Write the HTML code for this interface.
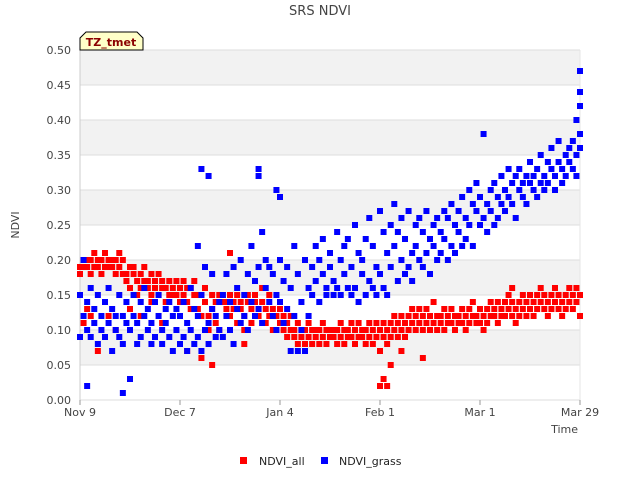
<!DOCTYPE html>
<html><head><meta charset="utf-8"><style>
body{margin:0;background:#fff;font-family:"Liberation Sans",sans-serif}
svg text{font-family:"DejaVu Sans","Liberation Sans",sans-serif}
</style></head><body>
<svg id="c" width="640" height="480">
<text x="320" y="15" text-anchor="middle" font-size="13" fill="#444">SRS NDVI</text>
<g id="grid"></g><g id="axes"></g><g id="marks"></g>
<g>
<path d="M80,50 L80,38 L86,32 L137,32 L143,38 L143,50 Z" fill="#ffffc8" stroke="#000"/>
<text x="111" y="46" text-anchor="middle" font-size="11" font-weight="bold" fill="#8b0000">TZ_tmet</text></g>
<text transform="translate(19,225) rotate(-90)" text-anchor="middle" font-size="11" fill="#444">NDVI</text>
<text x="578" y="433" text-anchor="end" font-size="11" fill="#444">Time</text>
<g><rect x="240" y="457" width="7" height="7" fill="#f00"/><text x="259" y="465" font-size="11" fill="#222">NDVI_all</text></g>
<g><rect x="321" y="457" width="7" height="7" fill="#00f"/><text x="339" y="465" font-size="11" fill="#222">NDVI_grass</text></g>
</svg>
<script>
const yTicks=[0,0.05,0.1,0.15,0.2,0.25,0.3,0.35,0.4,0.45,0.5];
const xTickDays=[0,28,56,84,112,140];
const xTickLabels=["Nov 9","Dec 7","Jan 4","Feb 1","Mar 1","Mar 29"];
const allDays=[0,0,1,1,2,2,3,3,4,4,5,5,6,6,7,7,8,8,9,9,10,10,11,11,12,12,1,3,5,8,10,2,
13,13,14,14,15,15,16,16,17,17,18,18,19,19,20,20,21,21,22,22,23,23,24,24,25,25,14,17,20,23,
26,26,27,27,28,28,29,29,30,30,31,31,32,32,33,33,34,34,35,35,36,36,37,37,38,38,39,39,30,34,37,
40,40,41,41,42,42,43,43,44,44,45,45,46,46,47,47,48,48,49,49,50,50,51,51,52,52,53,53,54,54,42,46,
55,55,56,56,57,57,58,58,59,59,60,60,61,61,62,62,63,63,64,64,65,65,66,66,67,67,68,68,69,69,70,70,
71,71,72,72,73,73,74,74,75,75,76,76,77,77,78,78,79,79,80,80,81,81,82,82,83,83,84,84,85,85,84,85,86,87,
86,86,87,87,88,88,89,89,90,90,91,91,92,92,93,93,94,94,95,95,96,96,97,97,98,98,99,99,100,100,90,96,
101,101,102,102,103,103,104,104,105,105,106,106,107,107,108,108,109,109,110,110,111,111,112,112,113,113,114,114,115,115,
116,116,117,117,118,118,119,119,120,120,121,121,122,122,123,123,124,124,125,125,126,126,127,127,128,128,129,129,130,130,
131,131,132,132,133,133,134,134,135,135,136,136,137,137,138,138,139,139,140,140,121,133];
const allVals=[0.19,0.18,0.20,0.19,0.19,0.20,0.20,0.18,0.21,0.19,0.19,0.20,0.20,0.18,0.19,0.21,0.20,0.19,0.19,0.20,0.20,0.18,0.19,0.21,0.18,0.20,0.11,0.12,0.07,0.12,0.10,0.13,
0.18,0.17,0.19,0.16,0.18,0.19,0.17,0.15,0.18,0.16,0.19,0.17,0.17,0.16,0.15,0.18,0.16,0.17,0.18,0.15,0.17,0.16,0.16,0.14,0.15,0.17,0.13,0.12,0.14,0.11,
0.16,0.15,0.17,0.15,0.16,0.14,0.15,0.17,0.14,0.16,0.16,0.13,0.15,0.17,0.13,0.15,0.15,0.12,0.14,0.16,0.12,0.10,0.15,0.13,0.11,0.14,0.10,0.15,0.07,0.06,0.05,
0.14,0.15,0.13,0.14,0.15,0.12,0.14,0.13,0.15,0.11,0.13,0.14,0.12,0.10,0.14,0.15,0.13,0.11,0.15,0.14,0.12,0.13,0.14,0.16,0.11,0.13,0.15,0.12,0.10,0.13,0.21,0.08,
0.12,0.10,0.11,0.13,0.10,0.12,0.11,0.09,0.10,0.12,0.10,0.09,0.11,0.08,0.09,0.10,0.10,0.08,0.09,0.11,0.10,0.08,0.09,0.10,0.08,0.10,0.09,0.11,0.10,0.08,0.09,0.10,
0.10,0.09,0.08,0.10,0.09,0.11,0.10,0.08,0.09,0.10,0.11,0.09,0.10,0.08,0.09,0.11,0.10,0.09,0.10,0.08,0.11,0.09,0.10,0.08,0.09,0.11,0.07,0.10,0.09,0.11,0.02,0.03,0.02,0.05,
0.10,0.08,0.11,0.09,0.10,0.12,0.09,0.11,0.10,0.12,0.11,0.09,0.10,0.12,0.11,0.13,0.10,0.12,0.11,0.13,0.12,0.10,0.11,0.13,0.12,0.10,0.11,0.14,0.12,0.10,0.07,0.06,
0.11,0.12,0.10,0.13,0.12,0.11,0.11,0.13,0.12,0.10,0.11,0.12,0.13,0.11,0.12,0.10,0.11,0.13,0.12,0.14,0.11,0.12,0.13,0.11,0.12,0.10,0.11,0.13,0.12,0.14,
0.13,0.12,0.14,0.11,0.12,0.13,0.14,0.12,0.13,0.15,0.12,0.14,0.13,0.11,0.14,0.12,0.15,0.13,0.12,0.14,0.13,0.15,0.14,0.12,0.13,0.15,0.14,0.16,0.13,0.15,
0.14,0.12,0.15,0.13,0.14,0.16,0.13,0.15,0.14,0.12,0.15,0.13,0.14,0.16,0.13,0.15,0.14,0.16,0.15,0.12,0.16,0.14,0.15,0.13,0.16,0.14,0.15,0.16,0.09,0.07];
const grassDays=[0,0,1,1,2,2,3,3,4,4,5,5,6,6,7,7,8,8,9,9,10,10,11,11,12,12,13,13,2,12,14,
14,15,15,16,16,17,17,18,18,19,19,20,20,21,21,22,22,23,23,24,24,25,25,26,26,27,27,
28,28,29,29,30,30,31,31,32,32,33,33,34,34,35,35,36,36,37,37,38,38,39,39,34,36,33,
40,40,41,41,42,42,43,43,44,44,45,45,46,46,47,47,48,48,49,49,50,50,51,51,52,52,53,53,50,50,
54,54,55,55,56,56,57,57,58,58,59,59,60,60,61,61,62,62,63,63,64,64,55,56,
65,65,66,66,67,67,68,68,69,69,70,70,71,71,72,72,73,73,74,74,75,75,76,76,77,77,78,78,79,79,
80,80,81,81,82,82,83,83,84,84,85,85,86,86,87,87,88,88,89,89,90,90,91,91,92,92,93,93,94,94,95,95,
96,96,97,97,98,98,99,99,100,100,101,101,102,102,103,103,104,104,105,105,106,106,107,107,108,108,109,109,110,110,
111,111,112,112,113,113,114,114,115,115,116,116,117,117,118,118,119,119,120,120,121,121,122,122,123,123,124,124,125,125,
126,126,127,127,128,128,129,129,130,130,131,131,132,132,133,133,134,134,135,135,136,136,137,137,138,138,139,139,140,140,140,140,139,140];
const grassVals=[0.15,0.09,0.20,0.12,0.14,0.10,0.16,0.09,0.11,0.13,0.08,0.15,0.10,0.12,0.14,0.09,0.11,0.16,0.07,0.13,0.10,0.12,0.15,0.09,0.12,0.08,0.14,0.11,0.02,0.01,0.03,
0.10,0.12,0.15,0.08,0.11,0.14,0.09,0.12,0.16,0.10,0.13,0.08,0.11,0.14,0.09,0.12,0.15,0.10,0.08,0.13,0.11,0.14,0.09,0.12,0.07,0.10,0.13,
0.08,0.12,0.09,0.14,0.07,0.11,0.10,0.16,0.08,0.13,0.12,0.09,0.15,0.07,0.10,0.19,0.11,0.08,0.13,0.18,0.09,0.12,0.14,0.10,0.33,0.32,0.22,
0.09,0.15,0.12,0.18,0.10,0.14,0.19,0.08,0.13,0.16,0.11,0.20,0.12,0.15,0.18,0.10,0.14,0.22,0.12,0.17,0.19,0.13,0.24,0.11,0.16,0.20,0.14,0.19,0.33,0.32,
0.12,0.18,0.15,0.10,0.20,0.14,0.17,0.11,0.13,0.19,0.07,0.16,0.12,0.22,0.07,0.18,0.14,0.10,0.20,0.07,0.16,0.12,0.30,0.29,
0.19,0.15,0.22,0.17,0.14,0.20,0.18,0.23,0.16,0.15,0.19,0.21,0.15,0.17,0.24,0.16,0.20,0.15,0.18,0.22,0.16,0.23,0.15,0.19,0.25,0.16,0.21,0.14,0.18,0.20,
0.15,0.23,0.17,0.26,0.16,0.22,0.19,0.15,0.27,0.18,0.16,0.24,0.21,0.15,0.25,0.19,0.22,0.28,0.17,0.24,0.20,0.26,0.18,0.23,0.19,0.27,0.21,0.17,0.25,0.22,0.20,0.26,
0.24,0.19,0.21,0.27,0.23,0.18,0.25,0.22,0.20,0.26,0.24,0.21,0.27,0.23,0.20,0.26,0.22,0.28,0.25,0.21,0.27,0.24,0.22,0.29,0.26,0.23,0.30,0.25,0.28,0.22,
0.27,0.31,0.25,0.29,0.26,0.38,0.28,0.24,0.30,0.27,0.25,0.31,0.29,0.26,0.32,0.28,0.30,0.27,0.33,0.29,0.31,0.28,0.26,0.32,0.30,0.33,0.29,0.31,0.28,0.32,
0.31,0.34,0.30,0.32,0.33,0.29,0.31,0.35,0.32,0.30,0.34,0.31,0.33,0.36,0.32,0.30,0.34,0.37,0.33,0.31,0.35,0.32,0.34,0.36,0.33,0.37,0.35,0.32,0.36,0.38,0.47,0.44,0.40,0.42];
const X0=80,X1=580,Y0=400,Y1=50;
const xs=d=>X0+(d-0)/(140-0)*(X1-X0);
const ys=v=>Y0-(v-0)/(0.5-0)*(Y0-Y1);
const NS="http://www.w3.org/2000/svg";
function mk(t,a,p){const e=document.createElementNS(NS,t);for(const k in a)e.setAttribute(k,a[k]);p.appendChild(e);return e;}
const grid=document.getElementById('grid'),axes=document.getElementById('axes'),marks=document.getElementById('marks');
for(let i=0;i<yTicks.length-1;i++){if(i%2===1){const r=mk('rect',{x:X0,y:ys(yTicks[i+1]),width:X1-X0,height:ys(yTicks[i])-ys(yTicks[i+1]),fill:'#f2f2f2'},grid);

}}
yTicks.forEach(v=>{const l=mk('line',{x1:X0,x2:X1,y1:ys(v),y2:ys(v),stroke:'#ddd'},grid);


const t=mk('text',{x:X0-9,y:ys(v)+4,'text-anchor':'end','font-size':11,fill:'#444'},axes);t.textContent=v.toFixed(2);

});
mk('line',{x1:X0,x2:X0,y1:Y1,y2:Y0,stroke:'#ccc'},axes);
mk('line',{x1:X1,x2:X1,y1:Y1,y2:Y0,stroke:'#e6e6e6'},axes);
xTickDays.forEach((d,i)=>{mk('line',{x1:xs(d),x2:xs(d),y1:Y0,y2:Y0+5,stroke:'#999'},axes);
const t=mk('text',{x:xs(d),y:Y0+16,'text-anchor':'middle','font-size':11,fill:'#444'},axes);t.textContent=xTickLabels[i];

});
allDays.forEach((d,i)=>{const r=mk('rect',{x:xs(d)-3,y:ys(allVals[i])-3,width:6,height:6,fill:'#f00'},marks);

});
grassDays.forEach((d,i)=>{const r=mk('rect',{x:xs(d)-3,y:ys(grassVals[i])-3,width:6,height:6,fill:'#00f'},marks);

});
</script>
</body></html>
